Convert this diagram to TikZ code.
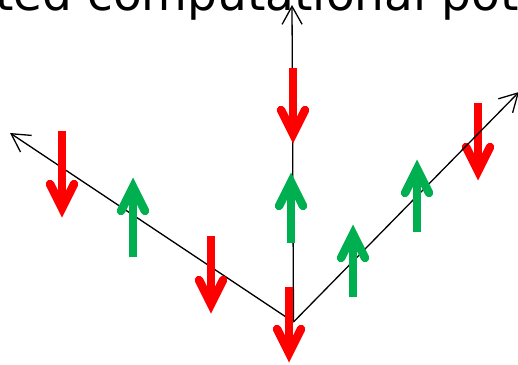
\documentclass[tikz,border=0pt]{standalone}
\usepackage{fontspec}
\setmainfont{DejaVu Sans}
\usetikzlibrary{arrows.meta}
\definecolor{spinred}{RGB}{255,0,0}
\definecolor{spingreen}{RGB}{0,176,80}
\tikzset{
  axisline/.style={line width=1.3pt, black, -{Straight Barb[length=18pt,width=20pt]}},
  spinshaft/.style={line width=8pt, line cap=butt},
  spinhead/.style={line width=8.5pt, line cap=round, line join=miter},
}
% spin arrows: colour, x, tail y, visible tip y (y grows downwards)
\newcommand{\spindown}[4]{%
  \draw[spinshaft,#1] (#2,#3) -- (#2,#4-12);
  \draw[spinhead,#1] (#2-12,#4-33) -- (#2,#4-9) -- (#2+12,#4-33);
}
\newcommand{\spinup}[4]{%
  \draw[spinshaft,#1] (#2,#3) -- (#2,#4+12);
  \draw[spinhead,#1] (#2-12,#4+33) -- (#2,#4+9) -- (#2+12,#4+33);
}
\begin{document}
\begin{tikzpicture}[x=1pt,y=-1pt]
  \useasboundingbox (0,0) rectangle (518,364);
  \clip (0,0) rectangle (518,364);
  \node[anchor=base west, inner sep=0, font=\fontsize{47}{51}\selectfont] (title) at (-5,10.5) {ted computational pot};

  \coordinate (origin) at (293.5,322);
  \coordinate (leftend) at (10,133);
  \coordinate (upend) at (292,5);
  \coordinate (rightend) at (519,92);

  \spindown{spinred}{478}{103}{180}

  \draw[axisline] (origin) -- (leftend);
  \draw[axisline] (origin) -- (upend);
  \draw[axisline] (origin) -- (rightend);

  \spindown{spinred}{62}{131}{217}
  \spinup{spingreen}{133}{257}{178}
  \spindown{spinred}{211}{236}{313}
  \spindown{spinred}{293}{68}{143}
  \spinup{spingreen}{291}{243}{173}
  \spindown{spinred}{289}{287}{362}
  \spinup{spingreen}{353}{297}{225}
  \spinup{spingreen}{417}{232}{160}
\end{tikzpicture}
\end{document}
